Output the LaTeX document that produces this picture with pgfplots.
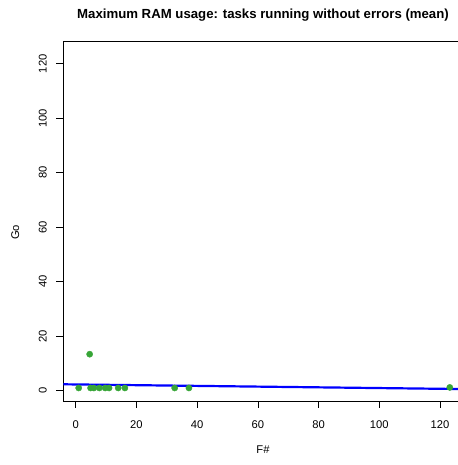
\documentclass[border=0pt]{standalone}
\usepackage{pgfplots}
\pgfplotsset{compat=1.18}
\usepackage{fontspec}
\setmainfont{Liberation Sans}
\definecolor{ptgreen}{RGB}{55,165,55}
\definecolor{lnblue}{RGB}{0,0,255}
\begin{document}
\fontsize{11.2bp}{13.5bp}\selectfont
\begin{tikzpicture}[x=1bp,y=1bp]
\clip (0,0) rectangle (458,465);
\begin{axis}[
  at={(63.3bp,64bp)}, anchor=south west,
  scale only axis, width=397.4bp, height=359.3bp,
  xmin=-4.08, xmax=126.8, ymin=-3.78, ymax=128.1,
  axis line style={black, line width=0.75bp},
  xtick={0,20,...,120}, ytick={0,20,...,120},
  tick align=outside, major tick length=7bp,
  tick style={black, line width=0.75bp},
  xtick pos=bottom, ytick pos=left,
  /pgf/number format/assume math mode=true,
  ticklabel style={font=\fontsize{11.2bp}{13.5bp}\selectfont},
  xticklabel style={anchor=base, yshift=-20.4bp},
  yticklabel style={rotate=90, anchor=base, yshift=9.6bp},
  clip=true,
]
\addplot[only marks, mark=*, mark size=3.1bp, mark options={fill=ptgreen, draw=ptgreen}]
  coordinates {
  (0.99,1.0) (4.6,13.4) (4.9,1.0) (6.0,1.0) (7.8,1.0) (9.7,1.0)
  (11.0,1.0) (14.0,1.0) (16.2,1.0) (32.6,1.0) (37.3,1.0) (123.2,1.2)
  };
\addplot[lnblue, line width=2.2bp] coordinates {(-4.08,2.35) (126.8,0.61)};
\end{axis}
\node[anchor=base, font=\bfseries\fontsize{13.2bp}{15bp}\selectfont] at (263,446.7) {Maximum RAM usage: tasks running without errors (mean)};
\node[anchor=base] at (263,11) {F\#};
\node[anchor=base, rotate=90] at (19,232.5) {Go};
\end{tikzpicture}
\end{document}
